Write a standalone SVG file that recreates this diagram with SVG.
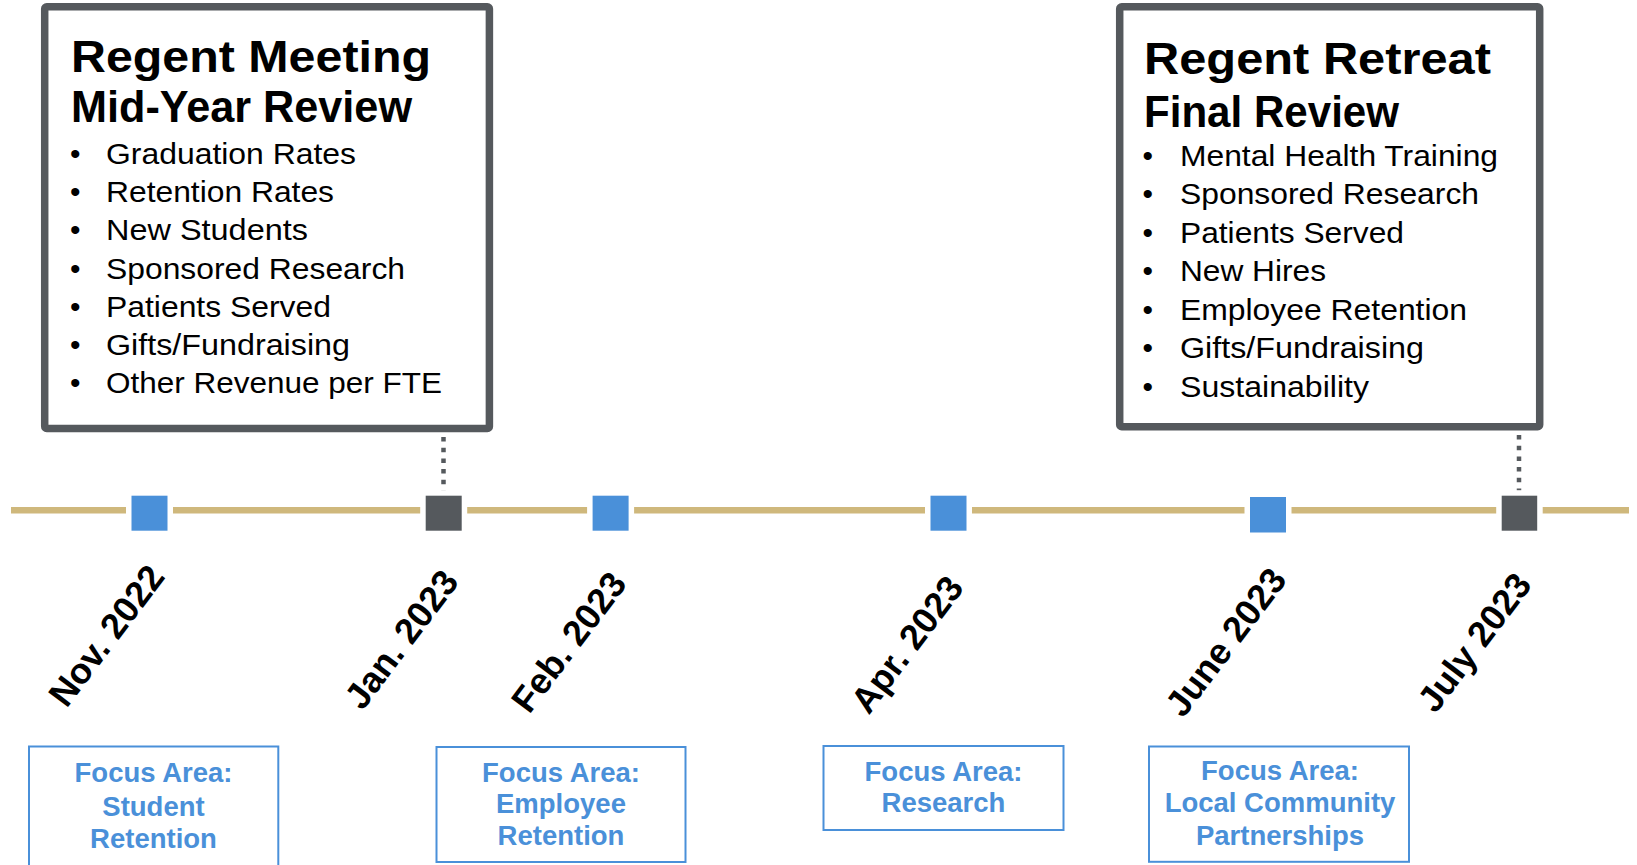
<svg xmlns="http://www.w3.org/2000/svg" width="1637" height="865" viewBox="0 0 1637 865">
<style>
.panel{fill:#fff;stroke:#55595d;stroke-width:7.5}
.title{font-family:"Liberation Sans",Arial,sans-serif;font-weight:bold;font-size:44px;fill:#000}
.item{font-family:"Liberation Sans",Arial,sans-serif;font-size:30px;fill:#000}
.date{font-family:"Liberation Sans",Arial,sans-serif;font-weight:bold;font-size:36px;fill:#000;text-anchor:end}
.focus{fill:#fff;stroke:#4a90d9;stroke-width:2}
.ftext{font-family:"Liberation Sans",Arial,sans-serif;font-weight:bold;font-size:27.5px;fill:#4a90d9;text-anchor:middle}
.blue{fill:#4a90d9;stroke:#fff;stroke-width:11;paint-order:stroke}
.dark{fill:#55595d;stroke:#fff;stroke-width:11;paint-order:stroke}
.dots{stroke:#55595d;stroke-width:4.5;stroke-dasharray:4.5 6.2;fill:none}
</style>

<g id="connectors">
  <line x1="11" y1="510.3" x2="1629" y2="510.3" stroke="#cfb87c" stroke-width="6.5"/>
  <line class="dots" x1="443.5" y1="437" x2="443.5" y2="494"/>
  <line class="dots" x1="1519" y1="435" x2="1519" y2="494"/>
</g>

<g id="panel-midyear">
  <rect class="panel" x="44.7" y="6.7" width="444.7" height="421.7" rx="2"/>
  <text class="title" x="71" y="71.5" textLength="360" lengthAdjust="spacingAndGlyphs">Regent Meeting</text>
  <text class="title" x="71" y="122" textLength="341" lengthAdjust="spacingAndGlyphs">Mid-Year Review</text>
  <g class="item">
    <text x="70" y="164">•</text>
    <text x="70" y="202.2">•</text>
    <text x="70" y="240.4">•</text>
    <text x="70" y="278.6">•</text>
    <text x="70" y="316.8">•</text>
    <text x="70" y="355">•</text>
    <text x="70" y="393.2">•</text>
    <text x="106" y="164" textLength="250" lengthAdjust="spacingAndGlyphs">Graduation Rates</text>
    <text x="106" y="202.2" textLength="228" lengthAdjust="spacingAndGlyphs">Retention Rates</text>
    <text x="106" y="240.4" textLength="202" lengthAdjust="spacingAndGlyphs">New Students</text>
    <text x="106" y="278.6" textLength="299" lengthAdjust="spacingAndGlyphs">Sponsored Research</text>
    <text x="106" y="316.8" textLength="225" lengthAdjust="spacingAndGlyphs">Patients Served</text>
    <text x="106" y="355" textLength="244" lengthAdjust="spacingAndGlyphs">Gifts/Fundraising</text>
    <text x="106" y="393.2" textLength="336" lengthAdjust="spacingAndGlyphs">Other Revenue per FTE</text>
  </g>
</g>

<g id="panel-final">
  <rect class="panel" x="1119.7" y="6.7" width="420" height="420" rx="2"/>
  <text class="title" x="1144" y="73.5" textLength="347" lengthAdjust="spacingAndGlyphs">Regent Retreat</text>
  <text class="title" x="1144" y="126.5" textLength="255" lengthAdjust="spacingAndGlyphs">Final Review</text>
  <g class="item">
    <text x="1142.5" y="165.7">•</text>
    <text x="1142.5" y="204.2">•</text>
    <text x="1142.5" y="242.7">•</text>
    <text x="1142.5" y="281.2">•</text>
    <text x="1142.5" y="319.7">•</text>
    <text x="1142.5" y="358.2">•</text>
    <text x="1142.5" y="396.7">•</text>
    <text x="1180" y="165.7" textLength="318" lengthAdjust="spacingAndGlyphs">Mental Health Training</text>
    <text x="1180" y="204.2" textLength="299" lengthAdjust="spacingAndGlyphs">Sponsored Research</text>
    <text x="1180" y="242.7" textLength="224" lengthAdjust="spacingAndGlyphs">Patients Served</text>
    <text x="1180" y="281.2" textLength="146" lengthAdjust="spacingAndGlyphs">New Hires</text>
    <text x="1180" y="319.7" textLength="287" lengthAdjust="spacingAndGlyphs">Employee Retention</text>
    <text x="1180" y="358.2" textLength="244" lengthAdjust="spacingAndGlyphs">Gifts/Fundraising</text>
    <text x="1180" y="396.7" textLength="189" lengthAdjust="spacingAndGlyphs">Sustainability</text>
  </g>
</g>

<g id="m-nov"><rect class="blue" x="131.5" y="495.7" width="36" height="35"/><text class="date" transform="translate(166,577) rotate(-53)">Nov. 2022</text></g>
<g id="m-jan"><rect class="dark" x="425.7" y="495.7" width="36" height="35"/><text class="date" transform="translate(460,582) rotate(-53)">Jan. 2023</text></g>
<g id="m-feb"><rect class="blue" x="592.6" y="495.7" width="36" height="35"/><text class="date" transform="translate(628,584) rotate(-53)">Feb. 2023</text></g>
<g id="m-apr"><rect class="blue" x="930.5" y="495.7" width="36" height="35"/><text class="date" transform="translate(965,588) rotate(-53)">Apr. 2023</text></g>
<g id="m-jun"><rect class="blue" x="1250" y="497" width="36" height="35.5"/><text class="date" transform="translate(1288,580) rotate(-53)">June 2023</text></g>
<g id="m-jul"><rect class="dark" x="1501.7" y="495.7" width="35.5" height="35"/><text class="date" transform="translate(1533,585) rotate(-53)">July 2023</text></g>

<g id="focus-student">
  <rect class="focus" x="29" y="746.5" width="249.3" height="130"/>
  <text class="ftext" x="153.5" y="782">Focus Area:</text>
  <text class="ftext" x="153.5" y="815.5">Student</text>
  <text class="ftext" x="153.5" y="848">Retention</text>
</g>
<g id="focus-employee">
  <rect class="focus" x="436.5" y="747" width="249" height="115"/>
  <text class="ftext" x="561" y="781.5">Focus Area:</text>
  <text class="ftext" x="561" y="813.3">Employee</text>
  <text class="ftext" x="561" y="845">Retention</text>
</g>
<g id="focus-research">
  <rect class="focus" x="823.5" y="746" width="240" height="84"/>
  <text class="ftext" x="943.5" y="780.5">Focus Area:</text>
  <text class="ftext" x="943.5" y="811.7">Research</text>
</g>
<g id="focus-community">
  <rect class="focus" x="1149" y="746.5" width="260" height="115.3"/>
  <text class="ftext" x="1280" y="780">Focus Area:</text>
  <text class="ftext" x="1280" y="811.7">Local Community</text>
  <text class="ftext" x="1280" y="845">Partnerships</text>
</g>
</svg>
